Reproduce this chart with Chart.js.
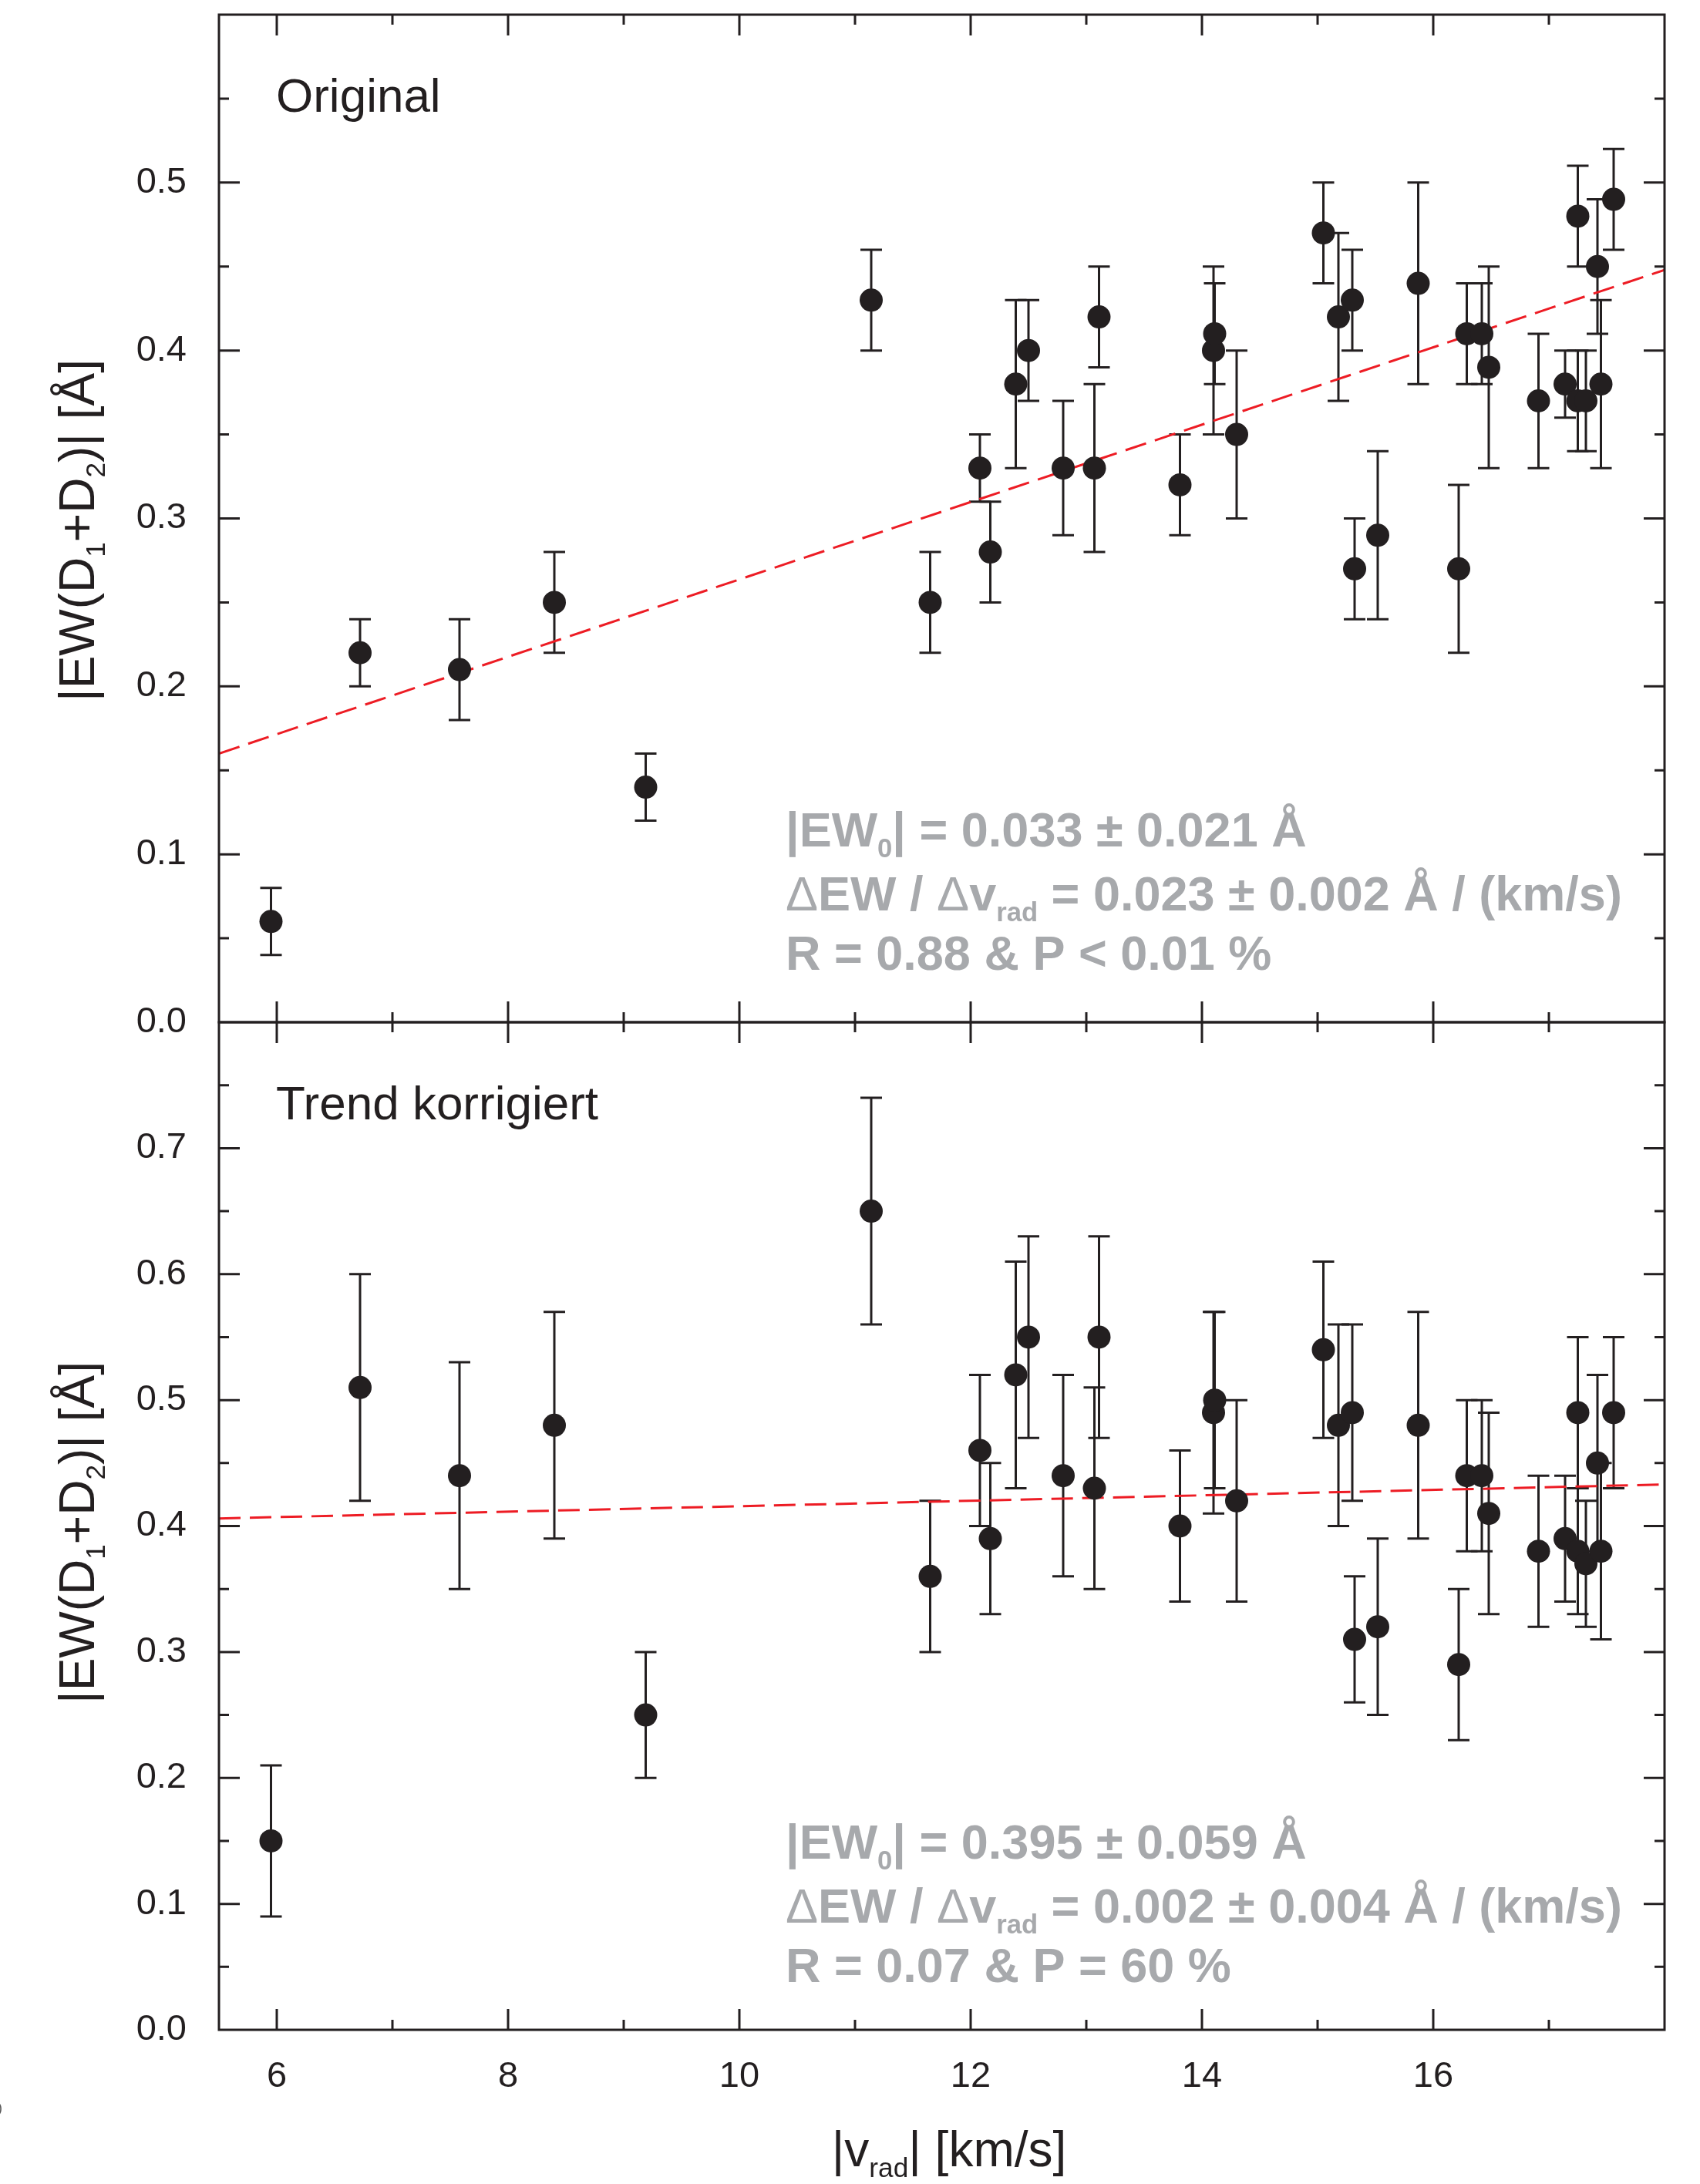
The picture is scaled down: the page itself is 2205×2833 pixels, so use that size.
<!DOCTYPE html>
<html>
<head>
<meta charset="utf-8">
<script src="https://cdn.jsdelivr.net/npm/chart.js@4.4.1/dist/chart.umd.min.js"></script>
<style>
  html, body { margin: 0; padding: 0; background: #fff; }
  #wrap { position: relative; width: 2205px; height: 2833px; overflow: hidden; }
  canvas { position: absolute; left: 0; }
</style>
</head>
<body>
<div id="wrap">
  <canvas id="topChart" width="2205" height="1360" style="top:0px"></canvas>
  <canvas id="bottomChart" width="2205" height="1533" style="top:1300px"></canvas>
</div>
<script>
// values
const vrad = [5.95, 6.72, 7.58, 8.40, 9.19, 11.14, 11.65, 12.08, 12.17, 12.39, 12.50, 12.80,
  13.07, 13.11, 13.81, 14.10, 14.11, 14.30, 15.05, 15.18, 15.30, 15.32, 15.52, 15.87,
  16.22, 16.29, 16.42, 16.48, 16.91, 17.14, 17.25, 17.25, 17.32, 17.42, 17.45, 17.56];

const ewOrig = [0.06, 0.22, 0.21, 0.25, 0.14, 0.43, 0.25, 0.33, 0.28, 0.38, 0.40, 0.33,
  0.33, 0.42, 0.32, 0.40, 0.41, 0.35, 0.47, 0.42, 0.43, 0.27, 0.29, 0.44,
  0.27, 0.41, 0.41, 0.39, 0.37, 0.38, 0.37, 0.48, 0.37, 0.45, 0.38, 0.49];
const errOrig = [0.02, 0.02, 0.03, 0.03, 0.02, 0.03, 0.03, 0.02, 0.03, 0.05, 0.03, 0.04,
  0.05, 0.03, 0.03, 0.05, 0.03, 0.05, 0.03, 0.05, 0.03, 0.03, 0.05, 0.06,
  0.05, 0.03, 0.03, 0.06, 0.04, 0.02, 0.03, 0.03, 0.03, 0.04, 0.05, 0.03];

const ewCorr = [0.15, 0.51, 0.44, 0.48, 0.25, 0.65, 0.36, 0.46, 0.39, 0.52, 0.55, 0.44,
  0.43, 0.55, 0.40, 0.49, 0.50, 0.42, 0.54, 0.48, 0.49, 0.31, 0.32, 0.48,
  0.29, 0.44, 0.44, 0.41, 0.38, 0.39, 0.38, 0.49, 0.37, 0.45, 0.38, 0.49];
const errCorr = [0.06, 0.09, 0.09, 0.09, 0.05, 0.09, 0.06, 0.06, 0.06, 0.09, 0.08, 0.08,
  0.08, 0.08, 0.06, 0.08, 0.07, 0.08, 0.07, 0.08, 0.07, 0.05, 0.07, 0.09,
  0.06, 0.06, 0.06, 0.08, 0.06, 0.05, 0.05, 0.06, 0.05, 0.07, 0.07, 0.06];

// dashed fit lines, end points at the frame edges
const trendX = [5.5, 18];
const trendOrig = [0.160, 0.448];
const trendCorr = [0.406, 0.433];

// tick positions
const xMajor = [6, 8, 10, 12, 14, 16];
const xMinor = [7, 9, 11, 13, 15, 17];
const yMajorTop = [0.1, 0.2, 0.3, 0.4, 0.5];
const yMinorTop = [0.05, 0.15, 0.25, 0.35, 0.45, 0.55];
const yMajorBot = [0.1, 0.2, 0.3, 0.4, 0.5, 0.6, 0.7];
const yMinorBot = [0.05, 0.15, 0.25, 0.35, 0.45, 0.55, 0.65, 0.75];

// texts
const yTitle = [{t: '|EW(D'}, {t: '1', sub: true}, {t: '+D'}, {t: '2', sub: true}, {t: ')| [Å]'}];
const xTitle = [{t: '|v'}, {t: 'rad', sub: true}, {t: '| [km/s]'}];
const statsOrig = [
  [{t: '|EW'}, {t: '0', sub: true}, {t: '| = 0.033 ± 0.021 Å'}],
  [{t: 'Δ', w: 'normal'}, {t: 'EW / '}, {t: 'Δ', w: 'normal'}, {t: 'v'}, {t: 'rad', sub: true}, {t: ' = 0.023 ± 0.002 Å / (km/s)'}],
  [{t: 'R = 0.88 & P < 0.01 %'}]
];
const statsCorr = [
  [{t: '|EW'}, {t: '0', sub: true}, {t: '| = 0.395 ± 0.059 Å'}],
  [{t: 'Δ', w: 'normal'}, {t: 'EW / '}, {t: 'Δ', w: 'normal'}, {t: 'v'}, {t: 'rad', sub: true}, {t: ' = 0.002 ± 0.004 Å / (km/s)'}],
  [{t: 'R = 0.07 & P = 60 %'}]
];

const INK = '#231f20';
const GREY = '#a7a9ac';
const RED = '#ed1c24';
const FONT = '"Liberation Sans", Arial, Helvetica, sans-serif';

Chart.defaults.font.family = FONT;

function drawRich(ctx, parts, x, y, size, weight, align) {
  const subSize = size * 0.55;
  let total = 0;
  const pieces = parts.map(p => {
    const s = p.sub ? subSize : size;
    const f = (p.w || weight) + ' ' + s + 'px ' + FONT;
    ctx.font = f;
    const w = ctx.measureText(p.t).width;
    total += w;
    return {t: p.t, f: f, w: w, dy: p.sub ? size * 0.22 : 0};
  });
  let cx = align === 'center' ? x - total / 2 : x;
  ctx.textAlign = 'left';
  ctx.textBaseline = 'alphabetic';
  pieces.forEach(p => {
    ctx.font = p.f;
    ctx.fillText(p.t, cx, y + p.dy);
    cx += p.w;
  });
}

function makeDeco(panel) {
  return {
    id: 'deco',
    beforeDatasetsDraw(chart) {
      const ctx = chart.ctx, xs = chart.scales.x, ys = chart.scales.y;
      ctx.save();
      ctx.strokeStyle = INK;
      ctx.lineWidth = 3;
      panel.ew.forEach((v, i) => {
        const px = xs.getPixelForValue(vrad[i]);
        const lo = ys.getPixelForValue(v - panel.err[i]);
        const hi = ys.getPixelForValue(v + panel.err[i]);
        ctx.beginPath();
        ctx.moveTo(px, lo); ctx.lineTo(px, hi);
        ctx.moveTo(px - 14, lo); ctx.lineTo(px + 14, lo);
        ctx.moveTo(px - 14, hi); ctx.lineTo(px + 14, hi);
        ctx.stroke();
      });
      ctx.restore();
    },
    afterDraw(chart) {
      const ctx = chart.ctx, xs = chart.scales.x, ys = chart.scales.y, a = chart.chartArea;
      ctx.save();
      ctx.strokeStyle = INK;
      ctx.lineWidth = 3;
      ctx.strokeRect(a.left, a.top, a.right - a.left, a.bottom - a.top);

      ctx.beginPath();
      const xt = (v, len) => {
        const px = xs.getPixelForValue(v);
        ctx.moveTo(px, a.top); ctx.lineTo(px, a.top + len);
        ctx.moveTo(px, a.bottom); ctx.lineTo(px, a.bottom - len);
      };
      const yt = (v, len) => {
        const py = ys.getPixelForValue(v);
        ctx.moveTo(a.left, py); ctx.lineTo(a.left + len, py);
        ctx.moveTo(a.right, py); ctx.lineTo(a.right - len, py);
      };
      xMajor.forEach(v => xt(v, 27));
      xMinor.forEach(v => xt(v, 13));
      panel.yMajor.forEach(v => yt(v, 27));
      panel.yMinor.forEach(v => yt(v, 13));
      ctx.stroke();

      ctx.fillStyle = INK;
      ctx.font = '62px ' + FONT;
      ctx.textAlign = 'left';
      ctx.textBaseline = 'alphabetic';
      ctx.fillText(panel.label, 358, a.top + 126);

      ctx.fillStyle = GREY;
      panel.stats.forEach((line, i) => {
        drawRich(ctx, line, 1019, panel.statsY[i], 63, 'bold', 'left');
      });

      ctx.fillStyle = INK;
      ctx.save();
      ctx.translate(122, panel.titleY);
      ctx.rotate(-Math.PI / 2);
      drawRich(ctx, yTitle, 0, 0, 64, 'normal', 'center');
      ctx.restore();

      if (panel.xTitle) {
        drawRich(ctx, xTitle, 1231, panel.xTitleY, 64, 'normal', 'center');
        ctx.fillStyle = '#555';
        ctx.font = '18px ' + FONT;
        ctx.fillText(')', -3, 1440);
      }
      ctx.restore();
    }
  };
}

function makeChart(id, panel) {
  const yMax = panel.yMax;
  return new Chart(document.getElementById(id), {
    type: 'scatter',
    data: {
      datasets: [
        {
          data: vrad.map((v, i) => ({x: v, y: panel.ew[i]})),
          pointRadius: 15,
          pointHoverRadius: 15,
          backgroundColor: INK,
          borderWidth: 0,
          order: 1
        },
        {
          type: 'line',
          data: trendX.map((v, i) => ({x: v, y: panel.trend[i]})),
          borderColor: RED,
          borderWidth: 3,
          borderDash: [28, 12],
          pointRadius: 0,
          fill: false,
          order: 2
        }
      ]
    },
    options: {
      responsive: false,
      devicePixelRatio: 1,
      animation: false,
      events: [],
      layout: {padding: panel.padding},
      plugins: {legend: {display: false}, tooltip: {enabled: false}},
      scales: {
        x: {
          type: 'linear',
          min: 5.5,
          max: 18,
          display: panel.showX,
          grid: {display: false},
          border: {display: false},
          ticks: {
            stepSize: 2,
            includeBounds: false,
            autoSkip: false,
            maxRotation: 0,
            padding: 25,
            color: INK,
            font: {size: 47},
            callback: v => (v > 17.5 ? '' : String(v))
          },
          afterFit: s => {
            s.height = panel.showX ? 200 : 0;
            s.paddingLeft = 0;
            s.paddingRight = 0;
          }
        },
        y: {
          type: 'linear',
          min: 0,
          max: yMax,
          grid: {display: false},
          border: {display: false},
          ticks: {
            stepSize: 0.1,
            autoSkip: false,
            padding: 34,
            color: INK,
            font: {size: 47},
            callback: v => (Math.abs(v - yMax) < 1e-6 ? '' : v.toFixed(1))
          },
          afterFit: s => {
            s.width = 284;
            s.paddingTop = 0;
            s.paddingBottom = 0;
          }
        }
      }
    },
    plugins: [makeDeco(panel)]
  });
}

makeChart('topChart', {
  ew: ewOrig, err: errOrig, trend: trendOrig, yMax: 0.6,
  yMajor: yMajorTop, yMinor: yMinorTop,
  label: 'Original', stats: statsOrig, statsY: [1098, 1181, 1258],
  titleY: 688, showX: false, xTitle: false,
  padding: {top: 19, right: 46, bottom: 34, left: 0}
});

makeChart('bottomChart', {
  ew: ewCorr, err: errCorr, trend: trendCorr, yMax: 0.8,
  yMajor: yMajorBot, yMinor: yMinorBot,
  label: 'Trend korrigiert', stats: statsCorr, statsY: [1111, 1194, 1271],
  titleY: 688, showX: true, xTitle: true, xTitleY: 1510,
  padding: {top: 26, right: 46, bottom: 0, left: 0}
});
</script>
</body>
</html>
